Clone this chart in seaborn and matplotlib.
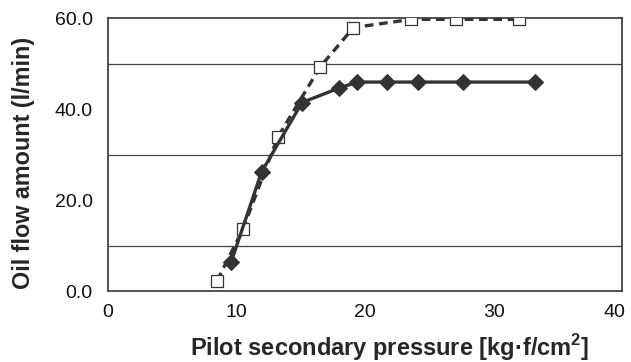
import matplotlib
matplotlib.use('Agg')
import matplotlib.pyplot as plt
import matplotlib.transforms as mtrans
import seaborn as sns
import pandas as pd

# values
press_sq = [8.5, 10.5, 13.2, 16.5, 19.1, 23.6, 27.1, 32.0]
flow_sq = [2.3, 13.6, 33.8, 49.3, 58.0, 59.8, 59.8, 59.8]
press_dm = [9.6, 11.95, 15.1, 18.0, 19.4, 21.7, 24.1, 27.6, 33.2]
flow_dm = [6.5, 26.2, 41.5, 44.7, 46.0, 46.0, 46.0, 46.0, 46.0]

x_ticks = [0, 10, 20, 30, 40]
y_ticks = [0, 20, 40, 60]
y_grid = [10, 30, 50]

sns.set_theme(style="white")
plt.rcParams['font.family'] = ['Liberation Sans', 'DejaVu Sans']
plt.rcParams['mathtext.fontset'] = 'custom'
plt.rcParams['mathtext.bf'] = 'Liberation Sans:bold'
plt.rcParams['mathtext.rm'] = 'Liberation Sans'

df_sq = pd.DataFrame({'p': press_sq, 'q': flow_sq})
df_dm = pd.DataFrame({'p': press_dm, 'q': flow_dm})

fig = plt.figure(figsize=(6.31, 3.62), dpi=100)
ax = fig.add_axes([0.171, 0.196, 0.815, 0.753])

dark = '#333333'
sns.lineplot(data=df_sq, x='p', y='q', ax=ax, sort=False, color=dark, lw=2.4,
             marker='s', markersize=8, markerfacecolor='white',
             markeredgecolor=dark, markeredgewidth=0.9, zorder=3)
ax.lines[-1].set_dashes([2.6, 1.7])
sns.lineplot(data=df_dm, x='p', y='q', ax=ax, sort=False, color=dark, lw=2.4,
             marker='D', markersize=8.5, markerfacecolor=dark,
             markeredgecolor=dark, zorder=4)

ax.set_xlim(0, 40)
ax.set_ylim(0, 60)
ax.set_xticks(x_ticks)
ax.set_yticks(y_ticks)
ax.set_yticklabels([f'{v:.1f}' for v in y_ticks])
ax.set_yticks(y_grid, minor=True)
ax.grid(which='minor', axis='y', color='#444444', lw=0.9)
ax.tick_params(which='both', length=0, labelsize=14, colors='#111111')
ax.tick_params(axis='y', pad=11)
ax.tick_params(axis='x', pad=9)

# last x label is pulled in so it stays inside the figure
last = ax.get_xticklabels()[-1]
last.set_horizontalalignment('right')
last.set_transform(last.get_transform() + mtrans.ScaledTranslation(3 / 100, 0, fig.dpi_scale_trans))

for s in ax.spines.values():
    s.set_color('#444444')
    s.set_linewidth(1.3)

ax.set_xlabel(r'Pilot secondary pressure [kg·f/cm$^{\mathbf{2}}$]',
              fontsize=17, fontweight='bold')
ax.set_ylabel('Oil flow amount (l/min)', fontsize=16.8, fontweight='bold')
ax.xaxis.set_label_coords(0.547, -0.15)
ax.yaxis.set_label_coords(-0.142, 0.469)

fig.savefig('out.png', dpi=100)
